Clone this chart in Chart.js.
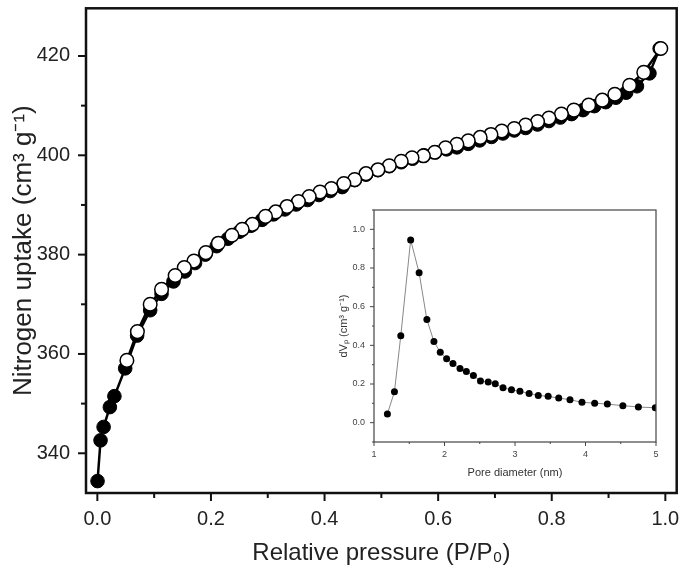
<!DOCTYPE html>
<html>
<head>
<meta charset="utf-8">
<script src="https://cdn.jsdelivr.net/npm/chart.js@4.4.0/dist/chart.umd.min.js"></script>
<style>
body { margin: 0; background: #fff; }
#wrap { position: relative; width: 685px; height: 576px; }
#main { position: absolute; left: 0; top: 0; }
#inset { position: absolute; left: 335px; top: 200px; }
</style>
</head>
<body>
<div id="wrap">
  <canvas id="main" width="685" height="576"></canvas>
  <canvas id="inset" width="330" height="285"></canvas>
</div>
<script>
// adsorption branch (filled circles)
var adsP = [0.0003, 0.0056, 0.011, 0.022, 0.03, 0.049, 0.07, 0.093, 0.113, 0.134, 0.154, 0.172, 0.19, 0.21, 0.23, 0.25, 0.27, 0.29, 0.31, 0.33, 0.35, 0.37, 0.39, 0.41, 0.431, 0.453, 0.473, 0.494, 0.514, 0.535, 0.555, 0.575, 0.595, 0.615, 0.633, 0.653, 0.673, 0.694, 0.714, 0.734, 0.754, 0.775, 0.795, 0.815, 0.835, 0.855, 0.875, 0.895, 0.913, 0.931, 0.95, 0.972, 0.99];
var adsV = [334.4, 342.6, 345.3, 349.3, 351.5, 357.1, 363.7, 368.8, 372.1, 374.6, 376.6, 378.3, 380.0, 381.7, 383.2, 384.6, 385.8, 387.0, 388.1, 389.1, 390.1, 391.0, 392.0, 392.8, 393.6, 395.0, 396.1, 397.0, 397.8, 398.6, 399.3, 400.0, 400.6, 401.2, 401.6, 402.3, 403.0, 403.7, 404.4, 405.0, 405.5, 406.2, 406.9, 407.6, 408.3, 409.1, 409.9, 410.7, 411.6, 412.6, 413.9, 416.5, 421.5];

// desorption branch (open circles)
var desP = [0.992, 0.962, 0.937, 0.911, 0.889, 0.865, 0.839, 0.817, 0.795, 0.775, 0.754, 0.734, 0.712, 0.693, 0.674, 0.653, 0.633, 0.613, 0.594, 0.574, 0.554, 0.535, 0.514, 0.494, 0.473, 0.453, 0.434, 0.412, 0.392, 0.373, 0.354, 0.334, 0.314, 0.296, 0.273, 0.255, 0.237, 0.213, 0.191, 0.17, 0.153, 0.137, 0.113, 0.093, 0.0705, 0.052];
var desV = [421.5, 416.7, 414.1, 412.3, 411.1, 410.1, 409.1, 408.3, 407.5, 406.8, 406.1, 405.4, 404.9, 404.2, 403.6, 402.9, 402.2, 401.5, 400.6, 399.9, 399.5, 398.8, 397.9, 397.1, 396.3, 395.1, 394.3, 393.3, 392.6, 391.7, 390.7, 389.7, 388.6, 387.7, 386.1, 385.1, 383.9, 382.3, 380.4, 378.7, 377.4, 375.8, 373.0, 370.0, 364.5, 358.7];

// inset: pore size distribution
var poreD = [1.19, 1.29, 1.38, 1.52, 1.64, 1.75, 1.85, 1.94, 2.03, 2.12, 2.22, 2.31, 2.41, 2.51, 2.62, 2.72, 2.83, 2.95, 3.07, 3.20, 3.33, 3.47, 3.62, 3.78, 3.95, 4.13, 4.31, 4.53, 4.75, 4.99];
var poreV = [0.045, 0.16, 0.45, 0.945, 0.775, 0.533, 0.42, 0.364, 0.33, 0.306, 0.28, 0.265, 0.244, 0.216, 0.21, 0.201, 0.18, 0.17, 0.162, 0.151, 0.141, 0.136, 0.127, 0.119, 0.105, 0.101, 0.096, 0.088, 0.081, 0.077];

var xTickLabels = ['0.0', '0.2', '0.4', '0.6', '0.8', '1.0'];
var yTickLabels = [340, 360, 380, 400, 420];
var insetXLabels = [1, 2, 3, 4, 5];
var insetYLabels = ['0.0', '0.2', '0.4', '0.6', '0.8', '1.0'];

function pts(xs, ys) {
  var out = [];
  for (var i = 0; i < xs.length; i++) out.push({x: xs[i], y: ys[i]});
  return out;
}

var FONT = "'Liberation Sans', Arial, sans-serif";

// fixed axis sizes, and no label overhang pushing the plot area in
function fixSize(w, h) {
  return function(s) {
    if (w) s.width = w;
    if (h) s.height = h;
    s.paddingTop = 0; s.paddingBottom = 0;
    s.paddingLeft = 0; s.paddingRight = 0;
  };
}

// frame + outward ticks (major / minor)
var frameTicks = {
  id: 'frameTicks',
  afterDraw: function(chart, args, o) {
    var c = chart.ctx, a = chart.chartArea;
    c.save();
    c.strokeStyle = o.color;
    c.lineWidth = o.tickWidth;
    ['x', 'y'].forEach(function(id) {
      var s = chart.scales[id];
      s.ticks.forEach(function(t) {
        var len = o.isMajor[id](t.value) ? o.major : o.minor;
        var p = s.getPixelForValue(t.value);
        c.beginPath();
        if (id === 'x') { c.moveTo(p, a.bottom); c.lineTo(p, a.bottom + len); }
        else { c.moveTo(a.left, p); c.lineTo(a.left - len, p); }
        c.stroke();
      });
    });
    c.lineWidth = o.frameWidth;
    c.strokeRect(a.left, a.top, a.right - a.left, a.bottom - a.top);
    c.restore();
  }
};

var whiteBg = {
  id: 'whiteBg',
  beforeDraw: function(chart) {
    var c = chart.ctx;
    c.save();
    c.fillStyle = '#fff';
    c.fillRect(0, 0, chart.width, chart.height);
    c.restore();
  }
};

new Chart(document.getElementById('main'), {
  type: 'scatter',
  data: {
    datasets: [{
      label: 'Desorption',
      data: pts(desP, desV),
      showLine: true,
      borderColor: '#000',
      borderWidth: 2.5,
      pointRadius: 6.8,
      pointBackgroundColor: '#fff',
      pointBorderColor: '#000',
      pointBorderWidth: 1.5,
      order: 1
    }, {
      label: 'Adsorption',
      data: pts(adsP, adsV),
      showLine: true,
      borderColor: '#000',
      borderWidth: 2.5,
      pointRadius: 6.8,
      pointBackgroundColor: '#000',
      pointBorderColor: '#000',
      pointBorderWidth: 1,
      order: 2
    }]
  },
  options: {
    responsive: false,
    animation: false,
    layout: { padding: { top: 5, right: 7, left: 0, bottom: 0 } },
    plugins: {
      legend: { display: false },
      tooltip: { enabled: false },
      frameTicks: {
        color: '#111', tickWidth: 2, frameWidth: 2.5, major: 8, minor: 5,
        isMajor: {
          x: function(v) { return Math.round(v * 10) % 2 === 0; },
          y: function(v) { return Math.round(v) % 20 === 0; }
        }
      }
    },
    scales: {
      x: {
        type: 'linear',
        min: -0.02,
        max: 1.02,
        afterFit: fixSize(0, 83),
        border: { display: false },
        grid: { drawOnChartArea: false, drawTicks: false },
        ticks: {
          stepSize: 0.1,
          includeBounds: false,
          autoSkip: false,
          maxRotation: 0,
          padding: 14,
          color: '#222',
          font: { family: FONT, size: 20 },
          callback: function(v) {
            var s = (Math.round(v * 10) / 10).toFixed(1);
            return xTickLabels.indexOf(s) >= 0 ? s : '';
          }
        },
        title: {
          display: true,
          text: 'Relative pressure (P/P\u2080)',
          color: '#222',
          font: { family: FONT, size: 24 },
          padding: { top: 0, bottom: 8 }
        }
      },
      y: {
        min: 332,
        max: 429.6,
        afterFit: fixSize(86, 0),
        border: { display: false },
        grid: { drawOnChartArea: false, drawTicks: false },
        ticks: {
          stepSize: 10,
          includeBounds: false,
          autoSkip: false,
          padding: 16,
          color: '#222',
          font: { family: FONT, size: 20 },
          callback: function(v) {
            return yTickLabels.indexOf(Math.round(v)) >= 0 ? Math.round(v) : '';
          }
        },
        title: {
          display: true,
          text: 'Nitrogen uptake (cm\u00b3 g\u207b\u00b9)',
          color: '#222',
          font: { family: FONT, size: 26 },
          padding: { top: 8, bottom: 0 }
        }
      }
    }
  },
  plugins: [frameTicks]
});

new Chart(document.getElementById('inset'), {
  type: 'scatter',
  data: {
    datasets: [{
      label: 'PSD',
      data: pts(poreD, poreV),
      showLine: true,
      borderColor: '#888',
      borderWidth: 1,
      pointRadius: 3.5,
      pointBackgroundColor: '#000',
      pointBorderColor: '#000',
      pointBorderWidth: 0
    }]
  },
  options: {
    responsive: false,
    animation: false,
    layout: { padding: { top: 10, right: 9, left: 0, bottom: 0 } },
    plugins: {
      legend: { display: false },
      tooltip: { enabled: false },
      frameTicks: {
        color: '#444', tickWidth: 1, frameWidth: 1.2, major: 4, minor: 2,
        isMajor: {
          x: function(v) { return Math.abs(v - Math.round(v)) < 1e-6; },
          y: function(v) { return Math.round(v * 10) % 2 === 0; }
        }
      }
    },
    scales: {
      x: {
        type: 'linear',
        min: 1,
        max: 5,
        afterFit: fixSize(0, 43),
        border: { display: false },
        grid: { drawOnChartArea: false, drawTicks: false },
        ticks: {
          stepSize: 0.5,
          autoSkip: false,
          maxRotation: 0,
          padding: 7,
          color: '#444',
          font: { family: FONT, size: 9 },
          callback: function(v) {
            return insetXLabels.indexOf(v) >= 0 ? String(v) : '';
          }
        },
        title: {
          display: true,
          text: 'Pore diameter (nm)',
          color: '#333',
          font: { family: FONT, size: 11 },
          padding: { top: 0, bottom: 5 }
        }
      },
      y: {
        min: -0.1,
        max: 1.1,
        afterFit: fixSize(39, 0),
        border: { display: false },
        grid: { drawOnChartArea: false, drawTicks: false },
        ticks: {
          stepSize: 0.1,
          includeBounds: false,
          autoSkip: false,
          padding: 9,
          color: '#444',
          font: { family: FONT, size: 9 },
          callback: function(v) {
            var s = (Math.round(v * 10) / 10).toFixed(1);
            return insetYLabels.indexOf(s) >= 0 ? s : '';
          }
        },
        title: {
          display: true,
          text: 'dV\u209a (cm\u00b3 g\u207b\u00b9)',
          color: '#333',
          font: { family: FONT, size: 11 },
          padding: { top: 2, bottom: 0 }
        }
      }
    }
  },
  plugins: [whiteBg, frameTicks]
});
</script>
</body>
</html>
